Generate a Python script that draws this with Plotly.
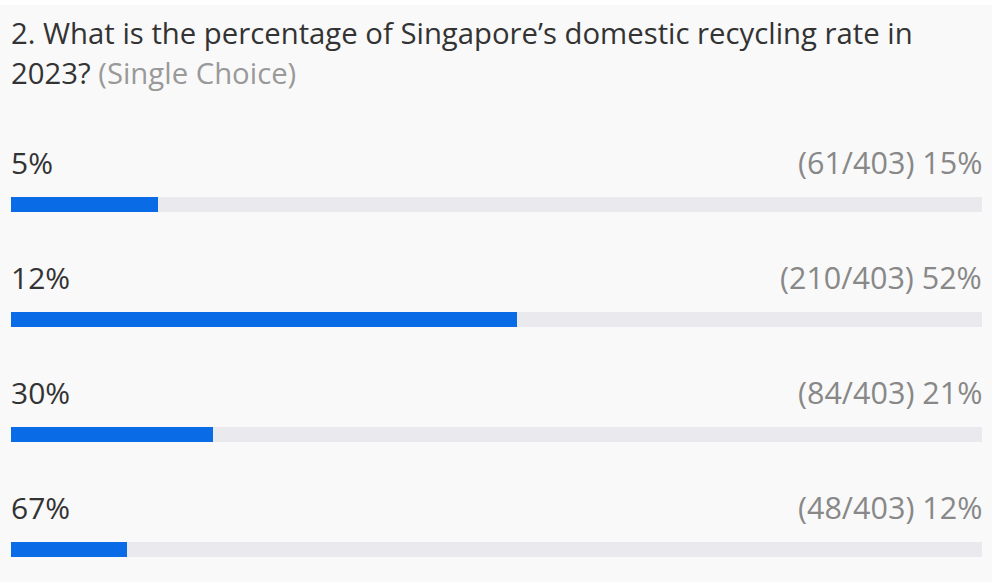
import plotly.graph_objects as go

options = ["5%", "12%", "30%", "67%"]
counts = [61, 210, 84, 48]
total = 403
pct_labels = ["15%", "52%", "21%", "12%"]

title_line1 = "2. What is the percentage of Singapore\u2019s domestic recycling rate in"
title_line2 = "2023?"
title_hint = "(Single Choice)"

shares = [c / total * 100 for c in counts]
FONT = "Open Sans"

fig = go.Figure()
fig.add_trace(go.Bar(
    y=options, x=[100] * len(options), orientation="h",
    marker=dict(color="#e9e9ee", line=dict(width=0)),
    width=0.135, hoverinfo="skip", showlegend=False,
))
fig.add_trace(go.Bar(
    y=options, x=shares, orientation="h",
    marker=dict(color="#0a6be6", line=dict(width=0)),
    width=0.135, showlegend=False,
))

annotations = []
for opt, c, p in zip(options, counts, pct_labels):
    annotations.append(dict(
        x=0, xref="paper", y=opt, yref="y", xanchor="left", yanchor="middle",
        text=opt, showarrow=False, yshift=42, xshift=-2,
        font=dict(family=FONT, size=30, color="#333333"),
    ))
    annotations.append(dict(
        x=1, xref="paper", y=opt, yref="y", xanchor="right", yanchor="middle",
        text=f"({c}/{total}) {p}", showarrow=False, yshift=42, xshift=2,
        font=dict(family=FONT, size=30.5, color="#888888"),
    ))

fig.update_layout(
    width=992, height=582,
    margin=dict(l=11, r=10, t=147, b=0),
    paper_bgcolor="#f9f9f9", plot_bgcolor="#f9f9f9",
    barmode="overlay",
    bargap=0,
    xaxis=dict(range=[0, 100], visible=False, fixedrange=True),
    yaxis=dict(categoryorder="array", categoryarray=options,
               range=[3.283, -0.5], visible=False, fixedrange=True),
    annotations=annotations,
    showlegend=False,
)

plot_h = 582 - 147
def paper_y(px):
    return (582 - px) / plot_h

fig.add_annotation(
    x=0, xref="paper", y=paper_y(33), yref="paper", xanchor="left", yanchor="middle",
    text=title_line1, showarrow=False, xshift=-2,
    font=dict(family=FONT, size=29.3, color="#333333"),
)
fig.add_annotation(
    x=0, xref="paper", y=paper_y(73), yref="paper", xanchor="left", yanchor="middle",
    text=f"{title_line2} <span style='color:#999999'>{title_hint}</span>",
    showarrow=False, xshift=-2,
    font=dict(family=FONT, size=29.3, color="#333333"),
)
fig.add_shape(type="rect", xref="paper", yref="paper", x0=-0.02, x1=1.02,
              y0=paper_y(5), y1=paper_y(0), fillcolor="#ffffff", line=dict(width=0), layer="below")

fig.write_html("out.html")
